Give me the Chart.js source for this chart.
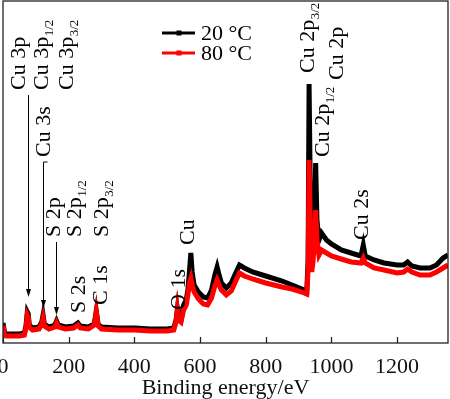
<!DOCTYPE html>
<html>
<head>
<meta charset="utf-8">
<script src="https://cdn.jsdelivr.net/npm/chart.js@4.4.1/dist/chart.umd.min.js"></script>
<style>
  html, body { margin: 0; padding: 0; background: #fff; }
  #wrap { width: 450px; height: 399px; }
</style>
</head>
<body>
<div id="wrap"><canvas id="xps" width="450" height="399"></canvas></div>
<script>
// binding energy (eV) and intensity (a.u.)
const energy = [0, 5, 10, 30, 50, 65, 70, 74, 77, 80,
  90, 110, 118, 122, 126, 140, 158, 163, 168, 190,
  215, 228, 235, 260, 278, 284, 290, 300, 350, 400,
  450, 500, 520, 527, 531, 535, 542, 550, 558, 563,
  568, 572, 576, 582, 595, 610, 623, 635, 645, 652,
  658, 665, 680, 695, 710, 720, 735, 760, 800, 850,
  880, 910, 925, 929, 932, 936, 940, 944, 950, 952,
  956, 962, 970, 985, 1000, 1030, 1060, 1090, 1097, 1103,
  1130, 1160, 1200, 1220, 1232, 1245, 1270, 1300, 1320, 1340,
  1355];
const counts20 = [20, 10, 9, 9, 9, 10, 17, 31, 29, 18,
  15, 16, 21, 28, 19, 16, 18, 22, 18, 16,
  17, 20, 17, 16, 19, 32, 18, 16, 15, 15,
  14, 14, 15, 23, 34, 25, 23, 38, 43, 53,
  73, 90, 71, 58, 51, 46, 45, 53, 68, 76,
  68, 60, 55, 60, 71, 78, 75, 71, 67, 62,
  58, 54, 52, 83, 259, 143, 81, 93, 143, 180,
  123, 103, 110, 103, 99, 93, 90, 87, 98, 87,
  83, 80, 78, 78, 81, 77, 75, 75, 78, 85,
  88];
const counts80 = [17, 8, 7, 7, 7, 8, 15, 28, 26, 16,
  13, 14, 19, 25, 17, 14, 16, 20, 16, 14,
  15, 18, 15, 14, 18, 31, 17, 14, 13, 13,
  12, 12, 13, 21, 33, 23, 21, 33, 38, 48,
  61, 65, 58, 51, 44, 39, 38, 45, 57, 63,
  58, 53, 48, 52, 63, 70, 67, 64, 60, 56,
  54, 51, 49, 73, 183, 113, 71, 81, 113, 133,
  103, 88, 93, 90, 87, 84, 81, 80, 85, 80,
  75, 73, 70, 71, 74, 71, 68, 68, 71, 75,
  78];
const seriesNames = ["20 °C", "80 °C"];
const xTicks = [0, 200, 400, 600, 800, 1000, 1200];

// peak assignments: [main text, subscript]
const peakNames = [
  ["Cu 3p", ""], ["Cu 3p", "1/2"], ["Cu 3p", "3/2"], ["Cu 3s", ""],
  ["S 2p", ""], ["S 2p", "1/2"], ["S 2p", "3/2"], ["S 2s", ""], ["C 1s", ""],
  ["O 1s", ""], ["Cu", ""], ["Cu 2p", "3/2"], ["Cu 2p", "1/2"], ["Cu 2p", ""], ["Cu 2s", ""]
];
// where each label sits: baseline x, start y (px)
const labelPos = [
  [25, 90], [48, 90], [73, 90], [50, 157],
  [60, 237], [81, 237], [108, 237], [85, 313], [107, 305],
  [185, 310], [194, 245], [314, 73], [329, 157], [343, 80], [368, 240]
];
// arrows pointing at the small peaks: energy, top y, tip y
const arrows = [
  { e: 77, top: 95, tip: 297 },
  { e: 121, top: 162, tip: 308, hook: true },
  { e: 162, top: 242, tip: 315 }
];

const serif = "'Liberation Serif', 'Times New Roman', serif";
const colors = ["#000000", "#ff0000"];

function vtext(ctx, bx, by, main, sub) {
  ctx.save();
  ctx.translate(bx, by);
  ctx.rotate(-Math.PI / 2);
  ctx.textAlign = "left";
  ctx.textBaseline = "alphabetic";
  ctx.font = "22px " + serif;
  ctx.fillText(main, 0, 0);
  if (sub) {
    const w = ctx.measureText(main).width;
    ctx.font = "13px " + serif;
    ctx.fillText(sub, w + 0.5, 5);
  }
  ctx.restore();
}

const decor = {
  id: "decor",
  afterDatasetsDraw(chart) {
    const { ctx, chartArea: a, scales: { x } } = chart;
    ctx.save();
    ctx.strokeStyle = "#222";
    ctx.lineWidth = 1.3;
    ctx.strokeRect(a.left, a.top, a.right - a.left, a.bottom - a.top);

    // inward ticks
    xTicks.forEach(v => {
      const px = Math.round(x.getPixelForValue(v)) + 0.5;
      ctx.beginPath();
      ctx.moveTo(px, a.bottom);
      ctx.lineTo(px, a.bottom - 6);
      ctx.stroke();
    });

    // arrows
    ctx.strokeStyle = "#000";
    ctx.fillStyle = "#000";
    ctx.lineWidth = 1;
    arrows.forEach(ar => {
      const px = Math.round(x.getPixelForValue(ar.e)) + 0.5;
      ctx.beginPath();
      ctx.moveTo(px, ar.top);
      ctx.lineTo(px, ar.tip - 6);
      if (ar.hook) {
        ctx.moveTo(px, ar.top);
        ctx.lineTo(px + 4, ar.top);
      }
      ctx.stroke();
      ctx.beginPath();
      ctx.moveTo(px - 2.5, ar.tip - 8);
      ctx.lineTo(px + 2.5, ar.tip - 8);
      ctx.lineTo(px, ar.tip);
      ctx.closePath();
      ctx.fill();
    });

    // peak labels
    ctx.fillStyle = "#000";
    peakNames.forEach((p, i) => vtext(ctx, labelPos[i][0], labelPos[i][1], p[0], p[1]));

    // legend
    chart.data.datasets.forEach((ds, i) => {
      const y = 33 + i * 20;
      ctx.strokeStyle = ds.borderColor;
      ctx.fillStyle = ds.borderColor;
      ctx.lineWidth = 3;
      ctx.beginPath();
      ctx.moveTo(162, y);
      ctx.lineTo(195, y);
      ctx.stroke();
      ctx.fillRect(176.5, y - 2.5, 5, 5);
      ctx.fillStyle = "#000";
      ctx.font = "22px " + serif;
      ctx.textAlign = "left";
      ctx.textBaseline = "middle";
      ctx.fillText(ds.label, 201, y + 1.5);
    });
    ctx.restore();
  }
};

new Chart(document.getElementById("xps"), {
  type: "line",
  data: {
    datasets: [
      {
        label: seriesNames[0],
        data: energy.map((e, i) => ({ x: e, y: counts20[i] })),
        borderColor: colors[0],
        borderWidth: 5,
        pointRadius: 0,
        tension: 0,
        order: 2
      },
      {
        label: seriesNames[1],
        data: energy.map((e, i) => ({ x: e, y: counts80[i] })),
        borderColor: colors[1],
        borderWidth: 5,
        pointRadius: 0,
        tension: 0,
        order: 1
      }
    ]
  },
  options: {
    responsive: false,
    animation: false,
    devicePixelRatio: 1,
    layout: { padding: { left: 3, right: 2, top: 1, bottom: 0 } },
    plugins: { legend: { display: false }, tooltip: { enabled: false } },
    scales: {
      x: {
        type: "linear",
        min: 0,
        max: 1355,
        grid: { display: false },
        border: { display: false },
        afterBuildTicks: s => { s.ticks = xTicks.map(v => ({ value: v })); },
        afterFit: s => { s.height = 56; s.paddingLeft = 0; s.paddingRight = 0; },
        ticks: {
          font: { family: serif, size: 22 },
          color: "#111",
          padding: 3,
          maxRotation: 0,
          autoSkip: false,
          callback: v => String(v)
        },
        title: {
          display: true,
          text: "Binding energy/eV",
          font: { family: serif, size: 22 },
          color: "#111",
          padding: { top: 0, bottom: -2 }
        }
      },
      y: { display: false, min: 0, max: 342 }
    }
  },
  plugins: [decor]
});
</script>
</body>
</html>
